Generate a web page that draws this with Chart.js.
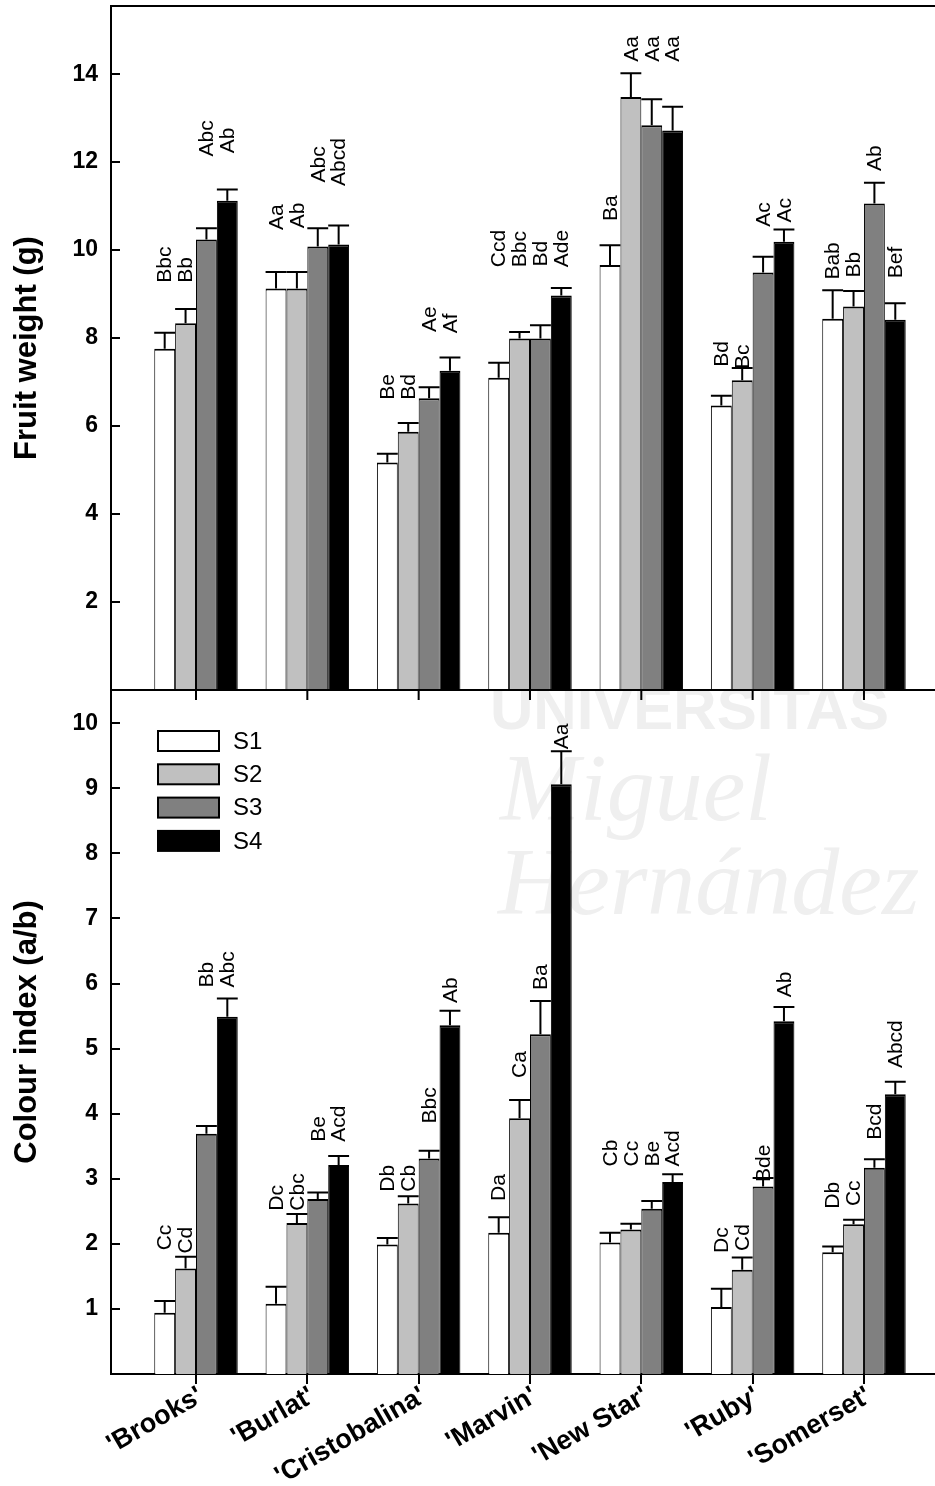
<!DOCTYPE html>
<html>
<head>
<meta charset="utf-8">
<script src="https://cdn.jsdelivr.net/npm/chart.js@4.4.1/dist/chart.umd.min.js"></script>
<style>
  html, body { margin: 0; padding: 0; background: #fff; }
  canvas { display: block; }
</style>
</head>
<body>
<canvas id="chart" width="935" height="1486"></canvas>
<script>
'use strict';

let categories = ["'Brooks'", "'Burlat'", "'Cristobalina'", "'Marvin'", "'New Star'", "'Ruby'", "'Somerset'"];
let seriesNames = ['S1', 'S2', 'S3', 'S4'];
let seriesColors = ['#ffffff', '#c0c0c0', '#808080', '#000000'];

// fruit weight (g), upper panel
let weightS1 = [7.76, 9.13, 5.17, 7.10, 9.66, 6.47, 8.44];
let weightS2 = [8.34, 9.13, 5.87, 7.99, 13.48, 7.04, 8.72];
let weightS3 = [10.24, 10.08, 6.63, 7.99, 12.84, 9.49, 11.06];
let weightS4 = [11.12, 10.13, 7.26, 8.97, 12.72, 10.19, 8.42];
let weightErrS1 = [0.36, 0.37, 0.20, 0.34, 0.45, 0.22, 0.65];
let weightErrS2 = [0.32, 0.37, 0.20, 0.15, 0.54, 0.28, 0.35];
let weightErrS3 = [0.26, 0.42, 0.25, 0.30, 0.59, 0.36, 0.47];
let weightErrS4 = [0.26, 0.43, 0.30, 0.17, 0.54, 0.28, 0.37];
let weightLetS1 = ['Bbc', 'Aa', 'Be', 'Ccd', 'Ba', 'Bd', 'Bab'];
let weightLetS2 = ['Bb', 'Ab', 'Bd', 'Bbc', 'Aa', 'Bc', 'Bb'];
let weightLetS3 = ['Abc', 'Abc', 'Ae', 'Bd', 'Aa', 'Ac', 'Ab'];
let weightLetS4 = ['Ab', 'Abcd', 'Af', 'Ade', 'Aa', 'Ac', 'Bef'];
let weightLetPosS1 = [9.26, 10.46, 6.6, 9.61, 10.66, 7.35, 9.33];
let weightLetPosS2 = [9.26, 10.5, 6.6, 9.61, 14.28, 7.3, 9.38];
let weightLetPosS3 = [12.13, 11.54, 8.14, 9.63, 14.28, 10.53, 11.8];
let weightLetPosS4 = [12.2, 11.46, 8.11, 9.61, 14.28, 10.63, 9.36];
let weightTicks = [2, 4, 6, 8, 10, 12, 14];

// colour index (a/b), lower panel
let colourS1 = [0.94, 1.08, 1.99, 2.17, 2.02, 1.03, 1.87];
let colourS2 = [1.62, 2.32, 2.62, 3.93, 2.22, 1.60, 2.30];
let colourS3 = [3.69, 2.69, 3.31, 5.22, 2.54, 2.88, 3.17];
let colourS4 = [5.49, 3.21, 5.36, 9.06, 2.95, 5.42, 4.30];
let colourErrS1 = [0.18, 0.26, 0.10, 0.24, 0.15, 0.28, 0.09];
let colourErrS2 = [0.18, 0.14, 0.11, 0.28, 0.09, 0.19, 0.07];
let colourErrS3 = [0.12, 0.10, 0.12, 0.51, 0.12, 0.13, 0.13];
let colourErrS4 = [0.28, 0.14, 0.22, 0.51, 0.12, 0.22, 0.19];
let colourLetS1 = ['Cc', 'Dc', 'Db', 'Da', 'Cb', 'Dc', 'Db'];
let colourLetS2 = ['Cd', 'Cbc', 'Cb', 'Ca', 'Cc', 'Cd', 'Cc'];
let colourLetS3 = ['Bb', 'Be', 'Bbc', 'Ba', 'Be', 'Bde', 'Bcd'];
let colourLetS4 = ['Abc', 'Acd', 'Ab', 'Aa', 'Acd', 'Ab', 'Abcd'];
let colourLetPosS1 = [1.9, 2.51, 2.8, 2.66, 3.19, 1.86, 2.54];
let colourLetPosS2 = [1.85, 2.51, 2.8, 4.55, 3.19, 1.89, 2.58];
let colourLetPosS3 = [5.94, 3.57, 3.85, 5.9, 3.19, 2.95, 3.6];
let colourLetPosS4 = [5.94, 3.57, 5.7, 9.6, 3.19, 5.79, 4.7];
let colourTicks = [1, 2, 3, 4, 5, 6, 7, 8, 9, 10];

let FONT = "'Liberation Sans', Arial, Helvetica, sans-serif";
Chart.defaults.font.family = FONT;
Chart.defaults.color = '#000';

function makeSet(idx, axis, values, errors, letters, letterPos) {
  return {
    label: seriesNames[idx],
    stack: seriesNames[idx],
    yAxisID: axis,
    data: values.map((v, i) => ({ x: i + 1, y: v })),
    errors: errors,
    letters: letters,
    letterPos: letterPos,
    backgroundColor: seriesColors[idx],
    borderColor: '#000',
    borderWidth: { top: 2, left: 1, right: 1, bottom: 0 },
    borderSkipped: false,
    categoryPercentage: 0.75,
    barPercentage: 1.0
  };
}

let datasets = [
  makeSet(0, 'yWeight', weightS1, weightErrS1, weightLetS1, weightLetPosS1),
  makeSet(1, 'yWeight', weightS2, weightErrS2, weightLetS2, weightLetPosS2),
  makeSet(2, 'yWeight', weightS3, weightErrS3, weightLetS3, weightLetPosS3),
  makeSet(3, 'yWeight', weightS4, weightErrS4, weightLetS4, weightLetPosS4),
  makeSet(0, 'yColour', colourS1, colourErrS1, colourLetS1, colourLetPosS1),
  makeSet(1, 'yColour', colourS2, colourErrS2, colourLetS2, colourLetPosS2),
  makeSet(2, 'yColour', colourS3, colourErrS3, colourLetS3, colourLetPosS3),
  makeSet(3, 'yColour', colourS4, colourErrS4, colourLetS4, colourLetPosS4)
];

let panelPlugin = {
  id: 'panelPlugin',
  beforeDraw(chart) {
    let ctx = chart.ctx;
    let split = chart.scales.yColour.top;
    ctx.save();
    ctx.fillStyle = '#fff';
    ctx.fillRect(0, 0, chart.width, chart.height);
    // faint watermark of the source repository
    ctx.beginPath();
    ctx.rect(0, split, chart.width, chart.height - split);
    ctx.clip();
    ctx.fillStyle = '#efefef';
    ctx.textBaseline = 'alphabetic';
    ctx.font = "bold 60px " + FONT;
    ctx.fillText('UNIVERSITAS', 490, 729);
    ctx.font = "italic 96px 'Liberation Serif', serif";
    ctx.fillText('Miguel', 500, 820);
    ctx.fillText('Hernández', 498, 914);
    ctx.restore();
  },
  afterDatasetsDraw(chart) {
    let ctx = chart.ctx;
    ctx.save();
    chart.data.datasets.forEach((ds, i) => {
      let meta = chart.getDatasetMeta(i);
      let scale = chart.scales[ds.yAxisID];
      meta.data.forEach((bar, j) => {
        let top = scale.getPixelForValue(ds.data[j].y + ds.errors[j]);
        let half = bar.width / 2;
        ctx.strokeStyle = '#000';
        ctx.lineWidth = 2;
        ctx.beginPath();
        ctx.moveTo(bar.x, bar.y);
        ctx.lineTo(bar.x, top);
        ctx.moveTo(bar.x - half, top);
        ctx.lineTo(bar.x + half, top);
        ctx.stroke();

        ctx.save();
        ctx.translate(bar.x, scale.getPixelForValue(ds.letterPos[j]));
        ctx.rotate(-Math.PI / 2);
        ctx.fillStyle = '#000';
        ctx.font = '21px ' + FONT;
        ctx.textAlign = 'left';
        ctx.textBaseline = 'middle';
        ctx.fillText(ds.letters[j], 0, 1);
        ctx.restore();
      });
    });
    ctx.restore();
  },
  afterDraw(chart) {
    let ctx = chart.ctx;
    let area = chart.chartArea;
    let split = chart.scales.yColour.top;
    let xScale = chart.scales.x;
    ctx.save();
    ctx.strokeStyle = '#000';
    ctx.lineWidth = 2;
    ctx.beginPath();
    ctx.moveTo(area.left - 1, area.top);
    ctx.lineTo(area.right, area.top);
    ctx.moveTo(area.left - 1, split);
    ctx.lineTo(area.right, split);
    // ticks of the upper panel's category axis
    for (let i = 0; i < categories.length; i++) {
      let px = xScale.getPixelForValue(i + 1);
      ctx.moveTo(px, split);
      ctx.lineTo(px, split + 10);
    }
    ctx.stroke();

    // legend in the lower panel
    let lx = area.left + 47;
    let ly = split + 41;
    for (let i = 0; i < seriesNames.length; i++) {
      let y = ly + i * 33.3;
      ctx.fillStyle = seriesColors[i];
      ctx.fillRect(lx, y, 61, 20);
      ctx.lineWidth = 2;
      ctx.strokeRect(lx, y, 61, 20);
      ctx.fillStyle = '#000';
      ctx.font = '24px ' + FONT;
      ctx.textAlign = 'left';
      ctx.textBaseline = 'middle';
      ctx.fillText(seriesNames[i], lx + 75, y + 11);
    }
    ctx.restore();
  }
};

function noPadding(scale) {
  scale.paddingTop = 0;
  scale.paddingBottom = 0;
  scale.paddingLeft = 0;
  scale.paddingRight = 0;
}

function yAxis(title, max, tickList, order) {
  return {
    type: 'linear',
    position: 'left',
    stack: 'panels',
    stackWeight: 1,
    weight: order,
    min: 0,
    max: max,
    afterBuildTicks: (scale) => {
      scale.ticks = tickList.map(v => ({ value: v }));
    },
    afterFit: (scale) => {
      scale.width = 111;
      noPadding(scale);
    },
    border: { display: true, color: '#000', width: 2 },
    grid: { drawOnChartArea: false, tickLength: -9, lineWidth: 2, color: '#000' },
    ticks: { font: { size: 23, weight: 'bold' }, padding: 22, color: '#000' },
    title: {
      display: true,
      text: title,
      color: '#000',
      font: { size: 31, weight: 'bold' },
      padding: { top: 9, bottom: 0 }
    }
  };
}

let canvasElem = document.getElementById('chart');

new Chart(canvasElem, {
  type: 'bar',
  data: { datasets: datasets },
  plugins: [panelPlugin],
  options: {
    responsive: false,
    animation: false,
    layout: { padding: { top: 6, right: 0, left: 0, bottom: 0 } },
    plugins: {
      legend: { display: false },
      tooltip: { enabled: false }
    },
    scales: {
      x: {
        type: 'linear',
        min: 0.2365,
        max: 7.638,
        offset: false,
        afterBuildTicks: (scale) => {
          scale.ticks = categories.map((c, i) => ({ value: i + 1 }));
        },
        afterFit: (scale) => {
          scale.height = 112;
          noPadding(scale);
        },
        border: { display: true, color: '#000', width: 2 },
        grid: { drawOnChartArea: false, offset: false, tickLength: 10, lineWidth: 2, color: '#000' },
        ticks: {
          autoSkip: false,
          minRotation: 30,
          maxRotation: 30,
          padding: -4,
          labelOffset: 5,
          font: { size: 27, weight: 'bold' },
          color: '#000',
          callback: (value) => categories[value - 1]
        }
      },
      yWeight: yAxis('Fruit weight (g)', 15.55, weightTicks, 2),
      yColour: yAxis('Colour index (a/b)', 10.51, colourTicks, 1)
    }
  }
});
</script>
</body>
</html>
